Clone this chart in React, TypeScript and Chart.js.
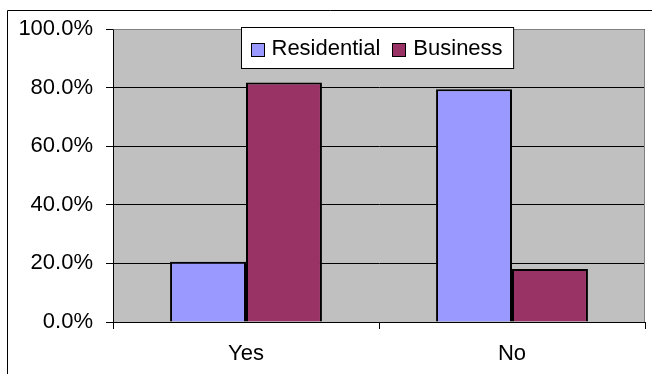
import React, { useEffect, useRef } from "react";
import { Chart, registerables } from "chart.js";

Chart.register(...registerables);

const categories = ["Yes", "No"];
const seriesNames = ["Residential", "Business"];
const residentialValues = [20.6, 79.4];
const businessValues = [81.7, 18.1];
const seriesColors = ["#9999FF", "#993366"];
const yTickValues = [0, 20, 40, 60, 80, 100];

const FONT = "'Liberation Sans', Arial, sans-serif";

const decorPlugin = {
  id: "decor",
  beforeDraw(chart: any) {
    const { ctx, chartArea } = chart;
    ctx.save();
    ctx.fillStyle = "#FFFFFF";
    ctx.fillRect(0, 0, chart.width, chart.height);
    ctx.fillStyle = "#C0C0C0";
    ctx.fillRect(chartArea.left, chartArea.top, chartArea.right - chartArea.left, chartArea.bottom - chartArea.top);
    // outer chart border
    ctx.strokeStyle = "#000";
    ctx.lineWidth = 1;
    ctx.beginPath();
    ctx.moveTo(7.5, chart.height + 2);
    ctx.lineTo(7.5, 10.5);
    ctx.lineTo(chart.width + 2, 10.5);
    ctx.stroke();
    ctx.restore();
  },
  afterDatasetsDraw(chart: any) {
    const { ctx, chartArea } = chart;
    ctx.save();
    // plot area grey border top/right
    ctx.strokeStyle = "#808080";
    ctx.lineWidth = 1;
    ctx.beginPath();
    ctx.moveTo(Math.round(chartArea.left) + 0.5, Math.round(chartArea.top) + 0.5);
    ctx.lineTo(Math.round(chartArea.right) - 0.5, Math.round(chartArea.top) + 0.5);
    ctx.lineTo(Math.round(chartArea.right) - 0.5, Math.round(chartArea.bottom));
    ctx.stroke();

    // legend
    ctx.font = `22px ${FONT}`;
    const ds = chart.data.datasets;
    const widths = ds.map((d: any) => ctx.measureText(d.label).width);
    const padL = 9, marker = 13, gapM = 8, gapItem = 12, padR = 11;
    let boxW = padL + padR;
    widths.forEach((w: number, i: number) => {
      boxW += marker + gapM + w + (i > 0 ? gapItem : 0);
    });
    const boxH = 41;
    const cx = (chartArea.left + chartArea.right) / 2 - 2;
    const bx = Math.round(cx - boxW / 2) + 0.5;
    const by = 27.5;
    ctx.fillStyle = "#FFFFFF";
    ctx.fillRect(bx, by, boxW, boxH);
    ctx.strokeStyle = "#000";
    ctx.strokeRect(bx, by, boxW, boxH);
    let x = bx + padL;
    const midY = by + boxH / 2;
    ds.forEach((d: any, i: number) => {
      if (i > 0) x += gapItem;
      const mx = Math.round(x) + 0.5;
      const my = Math.round(midY - marker / 2 + 1) + 0.5;
      ctx.fillStyle = d.backgroundColor;
      ctx.fillRect(mx, my, marker, marker);
      ctx.strokeStyle = "#000";
      ctx.lineWidth = 1;
      ctx.strokeRect(mx, my, marker, marker);
      x += marker + gapM;
      ctx.fillStyle = "#000";
      ctx.textBaseline = "middle";
      ctx.textAlign = "left";
      ctx.fillText(d.label, x, midY + 1);
      x += widths[i];
    });
    ctx.restore();
  },
};

export default function App() {
  const canvasRef = useRef<HTMLCanvasElement | null>(null);

  useEffect(() => {
    if (!canvasRef.current) return;
    const chart = new Chart(canvasRef.current, {
      type: "bar",
      data: {
        labels: categories,
        datasets: [
          {
            label: seriesNames[0],
            data: residentialValues,
            backgroundColor: seriesColors[0],
            borderColor: "#000",
            borderWidth: 2,
            categoryPercentage: 0.571,
            barPercentage: 1,
          },
          {
            label: seriesNames[1],
            data: businessValues,
            backgroundColor: seriesColors[1],
            borderColor: "#000",
            borderWidth: 2,
            categoryPercentage: 0.571,
            barPercentage: 1,
          },
        ],
      },
      options: {
        responsive: false,
        animation: false,
        layout: { padding: { top: 29, right: 7, left: 0, bottom: 0 } },
        plugins: {
          legend: { display: false },
          tooltip: { enabled: false },
          title: { display: false },
        },
        scales: {
          x: {
            offset: true,
            grid: {
              offset: true,
              drawOnChartArea: false,
              drawTicks: true,
              tickLength: 7,
              color: "#000",
            },
            border: { color: "#000", width: 1 },
            ticks: {
              color: "#000",
              font: { family: FONT, size: 22 },
              padding: 12,
            },
            afterFit(scale: any) {
              scale.height = 52;
            },
          },
          y: {
            min: 0,
            max: 100,
            afterBuildTicks(scale: any) {
              scale.ticks = yTickValues.map((v) => ({ value: v }));
            },
            grid: {
              color: "#000",
              drawTicks: true,
              tickLength: 7,
            },
            border: { color: "#000", width: 1 },
            ticks: {
              color: "#000",
              font: { family: FONT, size: 22 },
              padding: 13,
              callback: (v: any) => Number(v).toFixed(1) + "%",
            },
            afterFit(scale: any) {
              scale.width = 113;
            },
          },
        },
      },
      plugins: [decorPlugin],
    });
    return () => chart.destroy();
  }, []);

  return (
    <div style={{ position: "absolute", left: 0, top: 0, width: 652, height: 374 }}>
      <canvas ref={canvasRef} width={652} height={374} style={{ display: "block" }} />
    </div>
  );
}
